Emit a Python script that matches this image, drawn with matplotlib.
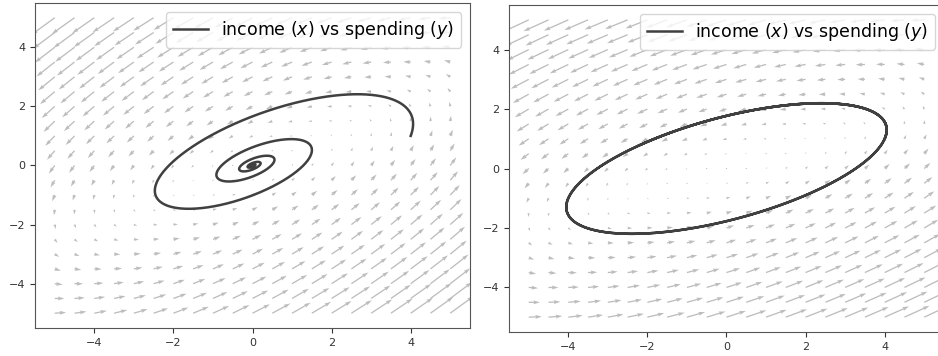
import numpy as np
import matplotlib.pyplot as plt

# grid where the direction field is sampled
grid_x = np.arange(-5, 5.01, 0.5)
grid_y = np.arange(-5, 5.01, 0.5)

# linear systems  d[x, y]/dt = A @ [x, y]  (coefficients)
A_damped = np.array([[0.74, -2.14],
                     [1.00, -1.10]])
A_closed = np.array([[1.09, -3.4],
                     [1.00, -1.09]])

start = [4.0, 1.0]        # income, spending at t=0
t_end = [40.0, 10.0]      # how long each trajectory runs
label = "income ($x$) vs spending ($y$)"


def integrate(A, p0, t1, dt=0.005):
    # plain rk4, good enough for a linear system
    f = lambda p: A @ p
    p = np.array(p0, dtype=float)
    pts = [p.copy()]
    for _ in range(int(t1 / dt)):
        k1 = f(p)
        k2 = f(p + dt / 2 * k1)
        k3 = f(p + dt / 2 * k2)
        k4 = f(p + dt * k3)
        p = p + dt / 6 * (k1 + 2 * k2 + 2 * k3 + k4)
        pts.append(p.copy())
    return np.array(pts)


fig = plt.figure(figsize=(9.38, 3.56), dpi=100)
ax1 = fig.add_axes([0.0373, 0.0787, 0.4638, 0.913])
ax2 = fig.add_axes([0.5426, 0.0674, 0.4638, 0.9185])

X, Y = np.meshgrid(grid_x, grid_y)
for ax, A, t1 in [(ax1, A_damped, t_end[0]), (ax2, A_closed, t_end[1])]:
    U = A[0, 0] * X + A[0, 1] * Y
    V = A[1, 0] * X + A[1, 1] * Y
    ax.quiver(X, Y, U, V, color='#bdbdbd', width=0.003)
    path = integrate(A, start, t1)
    ax.plot(path[:, 0], path[:, 1], color='#404040', lw=1.8, label=label)
    ax.set_xlim(-5.5, 5.5)
    ax.set_ylim(-5.5, 5.5)
    ax.tick_params(labelsize=8, colors='#333333')
    for s in ax.spines.values():
        s.set_color('#555555')
    ax.legend(loc='upper right', fontsize=12.5)

fig.savefig('out.png', dpi=100)
